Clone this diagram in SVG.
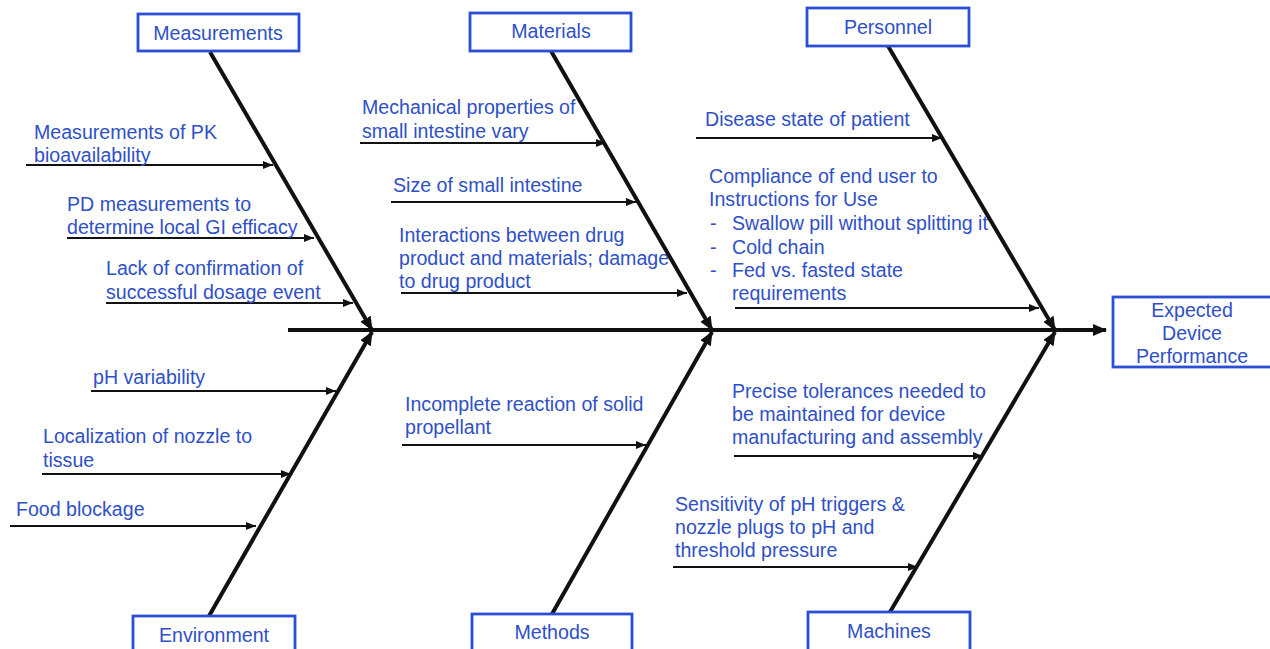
<svg xmlns="http://www.w3.org/2000/svg" width="1270" height="649" viewBox="0 0 1270 649">
<style>
.t{font-family:"Liberation Sans",Arial,sans-serif;font-size:19.6px;fill:#2f50c8}
.c{text-anchor:middle}
.box{fill:#fff;stroke:#2b4fd4;stroke-width:2.8}
.bone{stroke:#111;stroke-width:4;fill:none}
.thin{stroke:#111;stroke-width:2;fill:none}
</style>
<defs>
<marker id="big" viewBox="0 0 14 12" refX="13" refY="6" markerWidth="14" markerHeight="12" markerUnits="userSpaceOnUse" orient="auto"><path d="M0,0 L14,6 L0,12 z" fill="#111"/></marker>
<marker id="sm" viewBox="0 0 10 8" refX="10" refY="4" markerWidth="10" markerHeight="8" markerUnits="userSpaceOnUse" orient="auto"><path d="M0,0 L10,4 L0,8 z" fill="#111"/></marker>
</defs>
<rect width="1270" height="649" fill="#fff"/>
<g id="connectors">
<line class="bone" x1="288" y1="330" x2="1106" y2="330" marker-end="url(#big)"/>
<line class="bone" x1="210" y1="52" x2="372" y2="330" marker-end="url(#big)"/>
<line class="bone" x1="551" y1="51" x2="712" y2="330" marker-end="url(#big)"/>
<line class="bone" x1="888" y1="46" x2="1055" y2="330" marker-end="url(#big)"/>
<line class="bone" x1="209" y1="616" x2="372" y2="332" marker-end="url(#big)"/>
<line class="bone" x1="552" y1="614" x2="712" y2="332" marker-end="url(#big)"/>
<line class="bone" x1="890" y1="612" x2="1055" y2="332" marker-end="url(#big)"/>
<line class="thin" x1="26" y1="165" x2="273" y2="165" marker-end="url(#sm)"/>
<line class="thin" x1="67" y1="238" x2="314" y2="238" marker-end="url(#sm)"/>
<line class="thin" x1="106" y1="303" x2="353" y2="303" marker-end="url(#sm)"/>
<line class="thin" x1="360" y1="143" x2="606" y2="143" marker-end="url(#sm)"/>
<line class="thin" x1="391" y1="202" x2="636" y2="202" marker-end="url(#sm)"/>
<line class="thin" x1="401" y1="293" x2="687" y2="293" marker-end="url(#sm)"/>
<line class="thin" x1="696" y1="138" x2="942" y2="138" marker-end="url(#sm)"/>
<line class="thin" x1="735" y1="308" x2="1039" y2="308" marker-end="url(#sm)"/>
<line class="thin" x1="91" y1="391" x2="336" y2="391" marker-end="url(#sm)"/>
<line class="thin" x1="42" y1="474" x2="291" y2="474" marker-end="url(#sm)"/>
<line class="thin" x1="10" y1="526" x2="256" y2="526" marker-end="url(#sm)"/>
<line class="thin" x1="402" y1="445" x2="646" y2="445" marker-end="url(#sm)"/>
<line class="thin" x1="734" y1="456" x2="983" y2="456" marker-end="url(#sm)"/>
<line class="thin" x1="673" y1="567" x2="918" y2="567" marker-end="url(#sm)"/>
</g>
<g id="measurements"><rect class="box" x="138" y="14" width="161" height="37"/><text class="t c" x="218" y="40">Measurements</text></g>
<g id="materials"><rect class="box" x="470" y="13" width="161" height="38"/><text class="t c" x="551" y="38">Materials</text></g>
<g id="personnel"><rect class="box" x="807" y="8" width="162" height="38"/><text class="t c" x="888" y="34">Personnel</text></g>
<g id="environment"><rect class="box" x="133" y="616" width="162" height="40"/><text class="t c" x="214" y="642">Environment</text></g>
<g id="methods"><rect class="box" x="472" y="614" width="160" height="42"/><text class="t c" x="552" y="639">Methods</text></g>
<g id="machines"><rect class="box" x="808" y="612" width="162" height="44"/><text class="t c" x="889" y="638">Machines</text></g>
<g id="effect"><rect class="box" x="1113" y="297" width="162" height="70"/><text class="t c" x="1192" y="317">Expected</text><text class="t c" x="1192" y="340">Device</text><text class="t c" x="1192" y="363">Performance</text></g>
<g id="cause-pk"><text class="t" x="34" y="139">Measurements of PK</text><text class="t" x="34" y="162">bioavailability</text></g>
<g id="cause-pd"><text class="t" x="67" y="211">PD measurements to</text><text class="t" x="67" y="234">determine local GI efficacy</text></g>
<g id="cause-dosage"><text class="t" x="106" y="275">Lack of confirmation of</text><text class="t" x="106" y="299">successful dosage event</text></g>
<g id="cause-mech"><text class="t" x="362" y="114">Mechanical properties of</text><text class="t" x="362" y="138">small intestine vary</text></g>
<g id="cause-size"><text class="t" x="393" y="192">Size of small intestine</text></g>
<g id="cause-interactions"><text class="t" x="399" y="242">Interactions between drug</text><text class="t" x="399" y="265">product and materials; damage</text><text class="t" x="399" y="288">to drug product</text></g>
<g id="cause-disease"><text class="t" x="705" y="126">Disease state of patient</text></g>
<g id="cause-compliance"><text class="t" x="709" y="183">Compliance of end user to</text><text class="t" x="709" y="206">Instructions for Use</text>
<text class="t" x="710" y="230">-</text><text class="t" x="732" y="230">Swallow pill without splitting it</text>
<text class="t" x="710" y="254">-</text><text class="t" x="732" y="254">Cold chain</text>
<text class="t" x="710" y="277">-</text><text class="t" x="732" y="277">Fed vs. fasted state</text>
<text class="t" x="732" y="300">requirements</text></g>
<g id="cause-ph"><text class="t" x="93" y="384">pH variability</text></g>
<g id="cause-nozzle"><text class="t" x="43" y="443">Localization of nozzle to</text><text class="t" x="43" y="467">tissue</text></g>
<g id="cause-food"><text class="t" x="16" y="516">Food blockage</text></g>
<g id="cause-propellant"><text class="t" x="405" y="411">Incomplete reaction of solid</text><text class="t" x="405" y="434">propellant</text></g>
<g id="cause-tolerances"><text class="t" x="732" y="398">Precise tolerances needed to</text><text class="t" x="732" y="421">be maintained for device</text><text class="t" x="732" y="444">manufacturing and assembly</text></g>
<g id="cause-sensitivity"><text class="t" x="675" y="511">Sensitivity of pH triggers &amp;</text><text class="t" x="675" y="534">nozzle plugs to pH and</text><text class="t" x="675" y="557">threshold pressure</text></g>
</svg>
